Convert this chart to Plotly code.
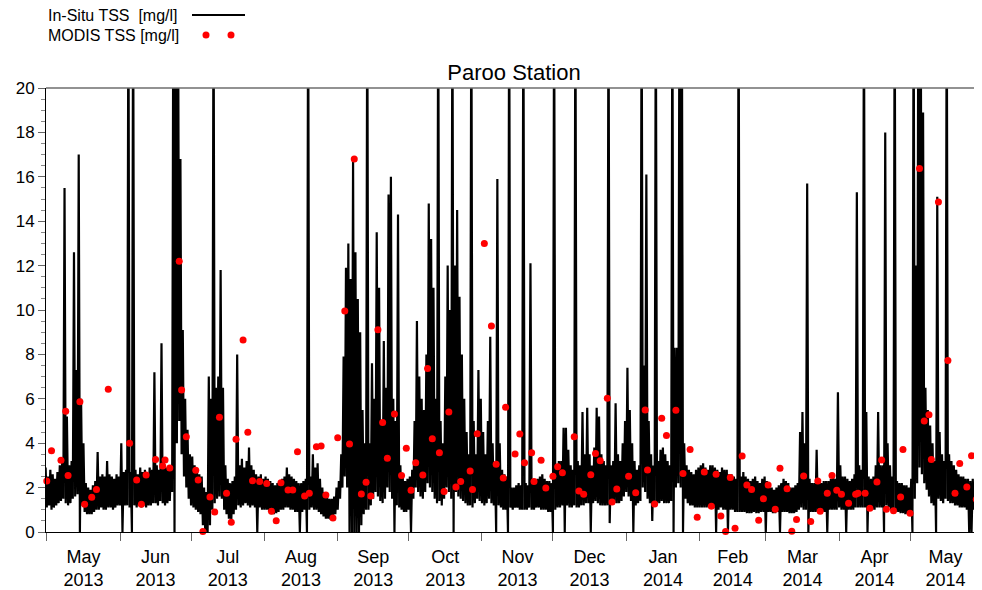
import pandas as pd
import plotly.graph_objects as go

# First pair of lists starts 30 Apr 2013, the others on the 1st of their month.
may13_lo = [1.2, 1.1, 1.2, 1.0, 1.1, 1.2, 1.3, 1.4, 1.5, 1.3, 1.2, 1.3, 1.5, 1.6, 1.7, 0.0,
            1.2, 0.9, 0.8, 0.8, 0.8, 0.9, 1.0, 1.0, 1.1, 1.0, 1.0, 1.1, 1.1, 1.0, 1.1, 1.2]
may13_hi = [2.9, 2.5, 2.8, 2.6, 2.4, 2.7, 3.0, 3.2, 15.5, 5.2, 3.0, 3.2, 12.6, 7.3, 17.0, 6.0,
            4.0, 2.2, 2.0, 1.9, 2.1, 2.3, 3.6, 2.5, 2.6, 2.5, 3.2, 2.6, 2.5, 2.4, 2.6, 2.5]
jun13_lo = [1.2, 0.0, 1.2, 1.2, 1.1, 0.0, 1.2, 1.1, 1.2, 1.1, 1.2, 1.1, 1.2, 1.2, 1.3,
            1.3, 1.2, 1.4, 1.3, 1.2, 1.3, 1.4, 1.8, 0.0, 4.0, 5.0, 3.5, 2.5, 2.0, 1.5]
jun13_hi = [4.0, 2.7, 2.8, 25, 2.7, 25, 2.8, 2.6, 2.9, 2.7, 2.8, 2.6, 2.9, 2.8, 7.2,
            3.0, 2.8, 8.5, 3.2, 2.9, 2.8, 3.0, 25, 25, 25, 16.8, 9.1, 6.0, 4.6, 3.5]
jul13_lo = [1.2, 1.1, 1.0, 0.9, 0.8, 0.3, 0.0, 0.0, 0.3, 1.0, 1.3, 1.5, 1.6, 1.5, 1.0, 0.8,
            0.6, 0.5, 0.8, 1.0, 1.2, 1.1, 1.2, 1.3, 1.2, 1.1, 1.2, 1.1, 0.0, 1.1, 1.0]
jul13_hi = [3.4, 3.0, 2.8, 2.6, 2.5, 2.0, 1.8, 7.0, 6.0, 25, 6.5, 7.0, 11.8, 6.5, 3.0, 2.4,
            2.2, 2.3, 2.5, 8.0, 3.0, 3.3, 2.9, 3.2, 3.8, 3.0, 2.8, 2.6, 2.5, 2.6, 2.4]
aug13_lo = [1.0, 1.0, 0.9, 0.8, 0.8, 0.85, 0.9, 1.0, 1.0, 1.1, 1.1, 1.0, 1.0, 0.9, 0.9, 0.0,
            0.9, 1.0, 0.0, 1.0, 1.1, 1.0, 1.0, 0.9, 0.8, 0.7, 0.6, 0.6, 0.55, 0.6, 0.8]
aug13_hi = [2.5, 2.4, 2.3, 2.2, 2.1, 2.2, 2.3, 2.4, 2.5, 2.9, 2.6, 2.5, 2.4, 2.3, 2.2, 2.2,
            2.3, 2.4, 25, 2.5, 3.5, 2.9, 3.1, 2.4, 2.0, 1.8, 1.6, 1.5, 1.5, 1.6, 2.0]
sep13_lo = [1.0, 1.5, 2.0, 2.5, 2.0, 0.0, 0.0, 0.0, 0.0, 0.0, 0.3, 0.8, 1.0, 1.0, 1.2,
            1.5, 1.8, 1.6, 1.4, 1.3, 1.5, 2.0, 1.8, 1.5, 0.0, 1.2, 1.1, 1.0, 0.9, 0.9]
sep13_hi = [2.3, 3.5, 7.9, 11.9, 13.0, 11.4, 16.8, 12.6, 10.5, 9.0, 5.5, 4.0, 25, 4.0, 7.6,
            6.0, 13.5, 11.0, 5.0, 8.6, 6.5, 15.2, 16.0, 6.0, 5.0, 14.3, 3.0, 2.5, 2.3, 2.4]
oct13_lo = [1.0, 0.0, 1.5, 2.0, 1.8, 1.6, 1.5, 1.8, 2.2, 2.0, 1.8, 1.5, 1.3, 1.4, 1.2, 1.5,
            2.0, 1.8, 1.5, 0.0, 1.8, 1.6, 1.5, 1.4, 1.3, 1.2, 1.2, 1.1, 1.3, 1.5, 1.4]
oct13_hi = [2.5, 2.8, 5.0, 9.5, 7.0, 6.0, 5.5, 8.0, 14.8, 13.2, 11.0, 6.0, 25, 5.0, 4.0, 7.0,
            12.0, 10.0, 25, 12.0, 14.5, 10.6, 8.0, 6.0, 4.5, 3.5, 25, 5.0, 3.5, 7.3, 6.0]
nov13_lo = [1.3, 1.2, 1.3, 1.5, 1.3, 1.2, 0.0, 1.2, 1.1, 1.0, 1.0, 0.0, 1.1, 1.0, 1.1,
            1.1, 1.0, 1.0, 1.0, 1.0, 1.1, 1.0, 1.0, 1.1, 1.1, 1.0, 1.0, 1.0, 0.9, 0.9]
nov13_hi = [4.5, 3.5, 5.0, 8.8, 4.0, 3.0, 15.9, 4.0, 2.8, 2.6, 2.5, 25, 2.0, 2.0, 2.1,
            2.2, 2.1, 25, 2.2, 2.1, 12.1, 2.2, 2.3, 2.4, 2.5, 2.6, 2.4, 2.3, 2.3, 2.2]
dec13_lo = [0.0, 1.0, 1.1, 1.1, 1.2, 0.0, 1.2, 1.1, 1.1, 1.2, 1.1, 1.1, 1.2, 1.2, 1.3, 1.3,
            0.0, 1.3, 1.4, 1.3, 1.2, 1.2, 1.2, 1.2, 0.4, 1.3, 1.3, 1.3, 1.3, 1.4, 1.6]
dec13_hi = [25, 3.0, 3.2, 3.2, 4.7, 4.7, 3.7, 3.0, 2.8, 25, 3.2, 3.0, 5.4, 3.5, 5.6, 3.5,
            3.0, 3.8, 5.6, 5.2, 3.5, 3.2, 3.0, 25, 3.0, 3.2, 5.8, 3.5, 3.2, 4.0, 5.0]
jan14_lo = [1.8, 1.6, 1.4, 0.0, 1.2, 1.3, 1.4, 2.0, 1.8, 1.5, 1.3, 0.5, 1.2, 1.3, 1.3, 1.4,
            1.3, 1.3, 1.3, 1.4, 0.0, 2.0, 2.2, 2.0, 0.0, 1.5, 1.3, 1.2, 1.2, 1.1, 1.1]
jan14_hi = [7.4, 5.5, 4.0, 3.2, 2.8, 3.0, 25, 7.5, 16.1, 5.0, 3.5, 3.0, 25, 3.2, 3.7, 3.8,
            3.5, 3.2, 3.0, 25, 8.3, 8.3, 25, 25, 4.0, 3.0, 2.8, 2.7, 2.6, 2.8, 2.9]
feb14_lo = [1.1, 1.1, 1.1, 1.1, 1.1, 1.1, 1.1, 0.0, 1.0, 1.1, 1.0, 1.0, 0.0, 1.0,
            1.0, 0.9, 0.9, 0.9, 0.9, 0.9, 0.85, 0.85, 0.85, 0.9, 0.85, 0.85, 0.9, 0.9]
feb14_hi = [3.0, 3.1, 2.9, 2.8, 3.0, 3.0, 2.9, 2.8, 2.7, 2.9, 2.8, 2.8, 2.6, 2.6,
            2.5, 2.4, 25, 2.5, 2.7, 2.5, 2.4, 2.3, 2.4, 2.5, 2.3, 2.2, 2.4, 2.5]
mar14_lo = [0.0, 0.9, 0.9, 0.85, 0.85, 0.9, 0.0, 0.9, 0.9, 0.9, 0.85, 0.85, 0.85, 0.9, 1.0, 1.1,
            1.0, 1.0, 0.0, 0.9, 0.9, 0.9, 0.9, 0.9, 0.9, 0.9, 0.0, 1.0, 1.0, 1.0, 1.0]
mar14_hi = [2.3, 2.0, 2.0, 1.9, 2.0, 2.1, 2.2, 2.4, 2.3, 2.2, 2.0, 2.0, 2.1, 2.2, 4.5, 5.4,
            4.0, 15.7, 2.4, 2.2, 2.2, 3.7, 2.3, 2.2, 2.3, 2.3, 2.3, 2.4, 2.5, 2.4, 6.3]
apr14_lo = [1.1, 1.0, 1.0, 0.0, 1.0, 1.0, 1.0, 1.1, 1.1, 1.1, 1.1, 1.1, 0.0, 1.0, 1.0,
            1.0, 1.1, 1.1, 1.1, 0.0, 1.2, 1.1, 1.0, 1.0, 0.9, 0.9, 0.85, 0.85, 0.8, 0.8]
apr14_hi = [3.0, 2.5, 2.5, 2.4, 2.3, 2.4, 2.6, 15.3, 3.0, 2.8, 25, 5.4, 2.5, 2.4, 2.5,
            3.0, 5.4, 3.0, 3.0, 18.0, 4.0, 3.0, 2.5, 25, 2.3, 2.2, 2.2, 2.1, 2.1, 2.0]
may14_lo = [0.9, 0.0, 1.5, 2.2, 2.9, 2.6, 2.2, 1.9, 1.6, 1.3, 1.2, 0.0, 1.5, 1.4, 1.3, 1.5,
            1.4, 1.3, 1.3, 1.2, 1.2, 1.1, 1.1, 1.1, 1.0, 0.0, 0.0, 1.0, 1.0, 1.0, 1.1]
may14_hi = [2.4, 25, 12.0, 25, 25, 18.9, 6.5, 5.5, 4.8, 4.0, 3.2, 15.1, 4.5, 3.5, 3.2, 25,
            3.5, 3.2, 3.0, 2.8, 2.6, 2.5, 2.5, 2.4, 2.4, 2.3, 2.4, 2.3, 2.2, 2.4, 2.6]

# MODIS TSS [mg/l] overpass values
modis_dates = [
    "2013-05-01", "2013-05-03", "2013-05-07", "2013-05-09", "2013-05-10", "2013-05-15",
    "2013-05-17", "2013-05-20", "2013-05-22", "2013-05-27", "2013-06-05", "2013-06-08",
    "2013-06-10", "2013-06-12", "2013-06-16", "2013-06-19", "2013-06-20", "2013-06-22",
    "2013-06-26", "2013-06-27", "2013-06-29", "2013-07-03", "2013-07-04", "2013-07-06",
    "2013-07-09", "2013-07-11", "2013-07-13", "2013-07-16", "2013-07-18", "2013-07-20",
    "2013-07-23", "2013-07-25", "2013-07-27", "2013-07-30", "2013-08-02", "2013-08-04",
    "2013-08-06", "2013-08-08", "2013-08-11", "2013-08-13", "2013-08-15", "2013-08-18",
    "2013-08-20", "2013-08-23", "2013-08-25", "2013-08-27", "2013-08-30", "2013-09-01",
    "2013-09-04", "2013-09-06", "2013-09-08", "2013-09-11", "2013-09-13", "2013-09-15",
    "2013-09-18", "2013-09-20", "2013-09-22", "2013-09-25", "2013-09-28", "2013-09-30",
    "2013-10-02", "2013-10-04", "2013-10-07", "2013-10-09", "2013-10-11", "2013-10-14",
    "2013-10-16", "2013-10-18", "2013-10-21", "2013-10-23", "2013-10-27", "2013-10-28",
    "2013-10-30", "2013-11-02", "2013-11-05", "2013-11-07", "2013-11-10", "2013-11-11",
    "2013-11-15", "2013-11-17", "2013-11-19", "2013-11-22", "2013-11-23", "2013-11-26",
    "2013-11-28", "2013-12-01", "2013-12-03", "2013-12-05", "2013-12-10", "2013-12-12",
    "2013-12-14", "2013-12-17", "2013-12-19", "2013-12-21", "2013-12-24", "2013-12-26",
    "2013-12-28", "2014-01-02", "2014-01-05", "2014-01-09", "2014-01-10", "2014-01-13",
    "2014-01-16", "2014-01-18", "2014-01-22", "2014-01-25", "2014-01-28", "2014-01-31",
    "2014-02-03", "2014-02-06", "2014-02-08", "2014-02-10", "2014-02-12", "2014-02-14",
    "2014-02-16", "2014-02-19", "2014-02-21", "2014-02-23", "2014-02-26", "2014-02-28",
    "2014-03-02", "2014-03-05", "2014-03-07", "2014-03-10", "2014-03-12", "2014-03-14",
    "2014-03-17", "2014-03-20", "2014-03-23", "2014-03-24", "2014-03-27", "2014-03-29",
    "2014-03-31", "2014-04-02", "2014-04-05", "2014-04-08", "2014-04-09", "2014-04-12",
    "2014-04-14", "2014-04-17", "2014-04-19", "2014-04-21", "2014-04-24", "2014-04-27",
    "2014-04-28", "2014-05-01", "2014-05-05", "2014-05-07", "2014-05-09", "2014-05-10",
    "2014-05-13", "2014-05-17", "2014-05-20", "2014-05-22", "2014-05-25", "2014-05-27",
    "2014-05-29",
]
modis_tss = [
    2.30, 3.66, 3.23, 5.44, 2.55, 5.87, 1.25, 1.56, 1.92, 6.43, 4.00, 2.34,
    1.25, 2.57, 3.27, 2.97, 3.24, 2.88, 12.2, 6.40, 4.29, 2.78, 2.34, 0.02,
    1.58, 0.90, 5.17, 1.74, 0.44, 4.18, 8.65, 4.49, 2.31, 2.27, 2.19, 0.93,
    0.51, 2.22, 1.89, 1.89, 3.62, 1.62, 1.74, 3.84, 3.87, 1.67, 0.63, 4.25,
    9.95, 3.96, 16.8, 1.71, 2.24, 1.62, 9.11, 4.93, 3.32, 5.32, 2.55, 3.77,
    1.88, 3.12, 2.57, 7.37, 4.20, 3.57, 1.82, 5.41, 2.03, 2.28, 2.75, 1.92,
    4.43, 13.0, 9.28, 3.05, 2.43, 5.62, 3.51, 4.41, 3.12, 3.57, 2.28, 3.23,
    1.98, 2.51, 2.94, 2.67, 4.29, 1.85, 1.70, 2.58, 3.54, 3.21, 6.02, 1.35,
    1.94, 2.51, 1.77, 5.50, 2.79, 1.26, 5.12, 4.35, 5.48, 2.63, 3.72, 0.66,
    2.70, 1.16, 2.60, 0.72, 0.02, 2.45, 0.17, 3.42, 2.12, 1.92, 0.53, 1.50,
    2.12, 1.02, 2.87, 1.95, 0.03, 0.56, 2.52, 0.47, 2.30, 0.93, 1.74, 2.55,
    1.88, 1.70, 1.29, 1.70, 1.74, 1.74, 1.07, 2.25, 3.24, 1.02, 0.96, 1.58,
    3.72, 0.84, 16.37, 5.00, 5.28, 3.27, 14.86, 7.72, 1.74, 3.09, 2.03, 3.44,
    1.47,
]

blocks = [
    ("2013-04-30", may13_lo, may13_hi), ("2013-06-01", jun13_lo, jun13_hi),
    ("2013-07-01", jul13_lo, jul13_hi), ("2013-08-01", aug13_lo, aug13_hi),
    ("2013-09-01", sep13_lo, sep13_hi), ("2013-10-01", oct13_lo, oct13_hi),
    ("2013-11-01", nov13_lo, nov13_hi), ("2013-12-01", dec13_lo, dec13_hi),
    ("2014-01-01", jan14_lo, jan14_hi), ("2014-02-01", feb14_lo, feb14_hi),
    ("2014-03-01", mar14_lo, mar14_hi), ("2014-04-01", apr14_lo, apr14_hi),
    ("2014-05-01", may14_lo, may14_hi),
]

rows = []
for start, lo, hi in blocks:
    days = pd.date_range(start, periods=len(lo), freq="D")
    for day, a, b in zip(days, lo, hi):
        rows.append((day, a))
        rows.append((day + pd.Timedelta(hours=12), b))
insitu = pd.DataFrame(rows, columns=["time", "tss"])

FONT = "Arial, Liberation Sans, sans-serif"

# the page body adds an 8px margin, so the figure is drawn that much smaller
OFF = 8
W, H = 982 - OFF, 590 - OFF
# plot area in page pixels, also used to place the hand-made legend
L, R, T, B = 46, 982, 88, 532


def px(x):
    return (x - L) / (R - L)


def py(y):
    return (B - y) / (B - T)


fig = go.Figure()

fig.add_trace(go.Scatter(
    x=insitu["time"], y=insitu["tss"],
    mode="lines", line=dict(color="black", width=2.2),
    name="In-Situ TSS  [mg/l]", showlegend=False, hoverinfo="skip"))

fig.add_trace(go.Scatter(
    x=pd.to_datetime(modis_dates), y=modis_tss,
    mode="markers", marker=dict(color="#ff0000", size=7),
    name="MODIS TSS [mg/l]", showlegend=False, cliponaxis=False))

# legend drawn by hand: text first, symbol to the right
fig.add_annotation(text="In-Situ TSS  [mg/l]", xref="paper", yref="paper",
                   x=0, y=py(15), xanchor="left", yanchor="middle", showarrow=False,
                   font=dict(family=FONT, size=16, color="black"))
fig.add_annotation(text="MODIS TSS [mg/l]", xref="paper", yref="paper",
                   x=0, y=py(35), xanchor="left", yanchor="middle", showarrow=False,
                   font=dict(family=FONT, size=16, color="black"))
fig.add_shape(type="line", xref="paper", yref="paper",
              x0=px(192), x1=px(245), y0=py(15), y1=py(15),
              line=dict(color="black", width=2))
for cx in (206, 231):
    fig.add_shape(type="circle", xref="paper", yref="paper",
                  x0=px(cx - 3.5), x1=px(cx + 3.5), y0=py(35 + 3.5), y1=py(35 - 3.5),
                  fillcolor="#ff0000", line=dict(width=0))

# grey frame line along the top of the plot
fig.add_shape(type="line", xref="paper", yref="paper", x0=0, x1=1, y0=1, y1=1,
              line=dict(color="#6e6e6e", width=1.5))

fig.update_layout(
    width=W, height=H,
    margin=dict(l=L - OFF, r=W - (R - OFF), t=T - OFF, b=H - (B - OFF)),
    paper_bgcolor="white", plot_bgcolor="white",
    font=dict(family=FONT, color="black"),
    title=dict(text="Paroo Station", x=((L + R) / 2 - OFF) / W, xanchor="center",
               y=1 - (72 - OFF) / H, yanchor="middle",
               font=dict(family=FONT, size=22, color="black")),
    xaxis=dict(
        type="date", range=["2013-04-30 16:00", "2014-05-31 10:00"],
        dtick="M1", tick0="2013-05-01", tickformat="%b<br>%Y", ticklabelmode="period",
        ticks="outside", ticklen=8, tickcolor="#666",
        showline=True, linecolor="black", linewidth=1,
        showgrid=False, zeroline=False,
        tickfont=dict(family=FONT, size=18, color="black")),
    yaxis=dict(
        range=[0, 20], dtick=2, tick0=0,
        ticks="outside", ticklen=7, tickcolor="#666",
        minor=dict(dtick=0.5, ticks="outside", ticklen=4, tickcolor="#888"),
        showline=True, linecolor="black", linewidth=1,
        showgrid=False, zeroline=False,
        tickfont=dict(family=FONT, size=17, color="black")),
)

fig.write_html("out.html")
